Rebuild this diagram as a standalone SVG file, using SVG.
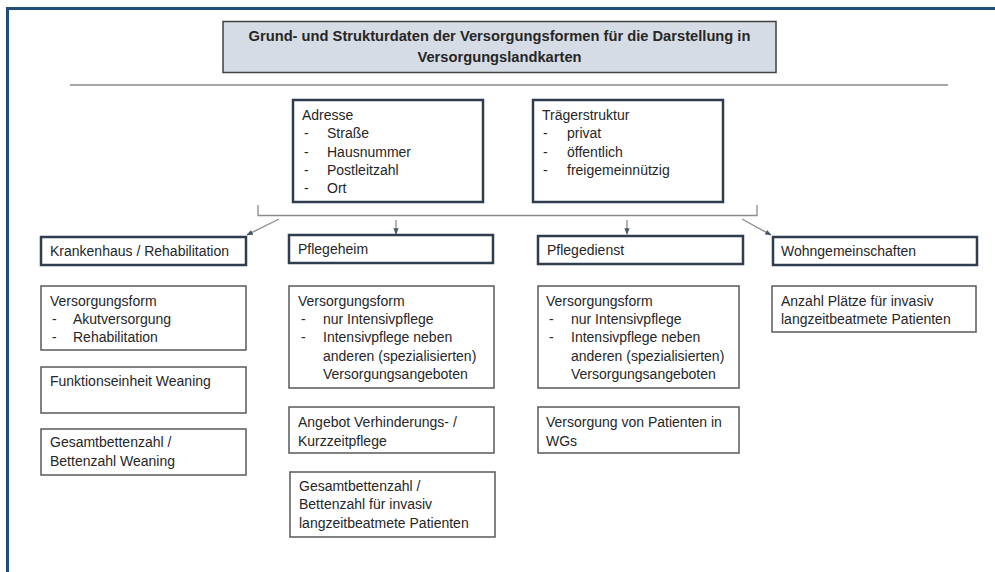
<svg xmlns="http://www.w3.org/2000/svg" width="995" height="572" viewBox="0 0 995 572">
<style>
text{font-family:"Liberation Sans",Arial,sans-serif;font-size:14px;fill:#262626}
.title{font-weight:bold;font-size:14.7px;text-anchor:middle}
.hb{fill:#fff;stroke:#2f3d4f;stroke-width:2.5}
.lb{fill:#fff;stroke:#5a5a5a;stroke-width:1.5}
.conn{stroke:#8c8c8c;stroke-width:1.3;fill:none}
</style>
<defs>
<marker id="ah" viewBox="0 0 10 10" refX="9" refY="5" markerWidth="5" markerHeight="5" orient="auto">
<path d="M0,1 L10,5 L0,9 z" fill="#44546a"/>
</marker>
</defs>
<rect x="0" y="0" width="995" height="572" fill="#fff"/>
<!-- frame -->
<line x1="6" y1="8.5" x2="995" y2="8.5" stroke="#1f4e79" stroke-width="3"/>
<line x1="7.5" y1="7" x2="7.5" y2="572" stroke="#1f4e79" stroke-width="3"/>

<g id="title">
<rect x="223" y="21.5" width="553" height="51" fill="#d6dce5" stroke="#404040" stroke-width="1.5"/>
<text class="title" x="499.5" y="41">Grund- und Strukturdaten der Versorgungsformen für die Darstellung in</text>
<text class="title" x="499.5" y="62">Versorgungslandkarten</text>
</g>
<line x1="70" y1="85" x2="948" y2="85" stroke="#a6a6a6" stroke-width="2"/>

<g id="adresse">
<rect class="hb" x="293" y="100" width="190" height="102"/>
<text x="302" y="120">Adresse</text>
<text x="304" y="138">-</text><text x="327" y="138">Straße</text>
<text x="304" y="157">-</text><text x="327" y="157">Hausnummer</text>
<text x="304" y="175">-</text><text x="327" y="175">Postleitzahl</text>
<text x="304" y="193">-</text><text x="327" y="193">Ort</text>
</g>
<g id="traeger">
<rect class="hb" x="533" y="100" width="190" height="102"/>
<text x="542" y="120">Trägerstruktur</text>
<text x="543" y="138">-</text><text x="567" y="138">privat</text>
<text x="543" y="157">-</text><text x="567" y="157">öffentlich</text>
<text x="543" y="175">-</text><text x="567" y="175">freigemeinnützig</text>
</g>

<g id="connectors">
<polyline class="conn" points="258,205 258,215.5 757,215.5 757,205"/>
<line class="conn" x1="279" y1="219" x2="247" y2="235" marker-end="url(#ah)"/>
<line class="conn" x1="396" y1="220" x2="396" y2="234" marker-end="url(#ah)"/>
<line class="conn" x1="627" y1="220" x2="627" y2="234" marker-end="url(#ah)"/>
<line class="conn" x1="742" y1="219" x2="771" y2="235" marker-end="url(#ah)"/>
</g>

<g id="krankenhaus">
<rect class="hb" x="41" y="237" width="205" height="28"/>
<text x="50" y="256">Krankenhaus / Rehabilitation</text>
</g>
<g id="pflegeheim">
<rect class="hb" x="289" y="235" width="204" height="28"/>
<text x="298" y="254">Pflegeheim</text>
</g>
<g id="pflegedienst">
<rect class="hb" x="538" y="236" width="205" height="28"/>
<text x="547" y="255">Pflegedienst</text>
</g>
<g id="wohngemeinschaften">
<rect class="hb" x="773" y="237" width="204" height="28"/>
<text x="781" y="256">Wohngemeinschaften</text>
</g>

<g id="kh-versorgungsform">
<rect class="lb" x="41" y="286" width="205" height="64"/>
<text x="50" y="306">Versorgungsform</text>
<text x="52" y="324">-</text><text x="73" y="324">Akutversorgung</text>
<text x="52" y="342">-</text><text x="73" y="342">Rehabilitation</text>
</g>
<g id="kh-weaning">
<rect class="lb" x="41" y="367" width="205" height="46"/>
<text x="50" y="386">Funktionseinheit Weaning</text>
</g>
<g id="kh-betten">
<rect class="lb" x="41" y="429" width="205" height="46"/>
<text x="50" y="447">Gesamtbettenzahl /</text>
<text x="50" y="466">Bettenzahl Weaning</text>
</g>

<g id="ph-versorgungsform">
<rect class="lb" x="289" y="286" width="205" height="102"/>
<text x="298" y="306">Versorgungsform</text>
<text x="301" y="324">-</text><text x="323" y="324">nur Intensivpflege</text>
<text x="301" y="342">-</text><text x="323" y="342">Intensivpflege neben</text>
<text x="323" y="361">anderen (spezialisierten)</text>
<text x="323" y="379">Versorgungsangeboten</text>
</g>
<g id="ph-kurzzeit">
<rect class="lb" x="289" y="407" width="205" height="46"/>
<text x="298" y="427">Angebot Verhinderungs- /</text>
<text x="298" y="446">Kurzzeitpflege</text>
</g>
<g id="ph-betten">
<rect class="lb" x="290" y="472" width="205" height="65"/>
<text x="299" y="491">Gesamtbettenzahl /</text>
<text x="299" y="509">Bettenzahl für invasiv</text>
<text x="299" y="528">langzeitbeatmete Patienten</text>
</g>

<g id="pd-versorgungsform">
<rect class="lb" x="538" y="286" width="201" height="102"/>
<text x="546" y="306">Versorgungsform</text>
<text x="549" y="324">-</text><text x="571" y="324">nur Intensivpflege</text>
<text x="549" y="342">-</text><text x="571" y="342">Intensivpflege neben</text>
<text x="571" y="361">anderen (spezialisierten)</text>
<text x="571" y="379">Versorgungsangeboten</text>
</g>
<g id="pd-wgs">
<rect class="lb" x="538" y="407" width="201" height="46"/>
<text x="546" y="427">Versorgung von Patienten in</text>
<text x="546" y="446">WGs</text>
</g>

<g id="wg-plaetze">
<rect class="lb" x="772" y="286" width="204" height="46"/>
<text x="781" y="306">Anzahl Plätze für invasiv</text>
<text x="781" y="324">langzeitbeatmete Patienten</text>
</g>
</svg>
